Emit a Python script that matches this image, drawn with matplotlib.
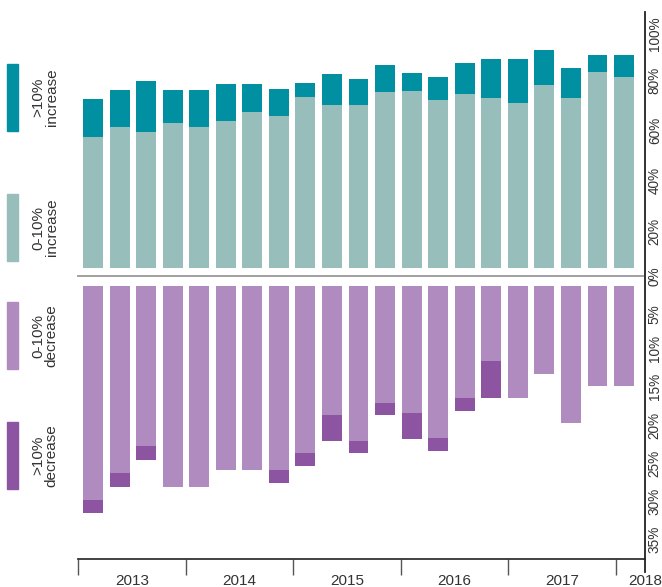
import matplotlib
matplotlib.use("Agg")
import matplotlib.pyplot as plt
from matplotlib.lines import Line2D
from matplotlib.patches import Rectangle
import numpy as np

plt.rcParams['font.family'] = ['Liberation Sans', 'DejaVu Sans']

# share of respondents per quarter, 2013 Q1 .. 2018 Q1
inc_small = [52.0, 56.0, 54.0, 57.5, 56.0, 58.3, 61.9, 60.3, 67.9, 64.7, 64.7,
             69.8, 70.2, 66.7, 69.0, 67.5, 65.5, 72.6, 67.5, 77.8, 75.8]
inc_large = [15.1, 14.6, 20.2, 13.1, 14.6, 14.7, 11.1, 10.7, 5.5, 12.3, 10.3,
             10.8, 7.2, 9.1, 12.3, 15.4, 17.4, 13.9, 11.9, 6.7, 8.7]
dec_small = [28.0, 24.5, 21.0, 26.3, 26.3, 24.1, 24.1, 24.1, 21.9, 16.9, 20.3,
             15.4, 16.7, 19.9, 14.7, 9.9, 14.7, 11.6, 18.0, 13.1, 13.1]
dec_large = [1.8, 1.8, 1.8, 0, 0, 0, 0, 1.7, 1.7, 3.4, 1.6,
             1.5, 3.4, 1.7, 1.7, 4.8, 0, 0, 0, 0, 0]
years = [2013, 2014, 2015, 2016, 2017, 2018]
top_ticks = [20, 40, 60, 80, 100]          # 0% is shared with the lower panel
bot_ticks = [0, 5, 10, 15, 20, 25, 30, 35]

c_inc_small = '#97bebb'
c_inc_large = '#0090a1'
c_dec_small = '#b08bc0'
c_dec_large = '#8d54a1'
txt = '#333333'

W, H = 662, 587
fig = plt.figure(figsize=(W / 100, H / 100), dpi=100)

def fx(px):
    return px / W

def fy(py):
    return 1 - py / H

x = np.arange(len(inc_small))
xlim = (-0.565, 20.79)
left, right = 78, 645

# top panel: increases
ax1 = fig.add_axes([fx(left), fy(268), fx(right - left), (268 - 12) / H])
ax1.bar(x, inc_small, width=0.75, color=c_inc_small)
ax1.bar(x, inc_large, width=0.75, bottom=inc_small, color=c_inc_large)
ax1.set_xlim(xlim)
ax1.set_ylim(0, 101.6)
ax1.set_yticks(top_ticks)
ax1.set_yticklabels([f'{t}%' for t in top_ticks], rotation=90, va='top')

# bottom panel: decreases (downwards)
ax2 = fig.add_axes([fx(left), fy(572), fx(right - left), (572 - 285.7) / H])
ax2.bar(x, dec_small, width=0.75, color=c_dec_small)
ax2.bar(x, dec_large, width=0.75, bottom=dec_small, color=c_dec_large)
ax2.set_xlim(xlim)
ax2.set_ylim(37.47, 0)
ax2.set_yticks(bot_ticks)
ax2.set_yticklabels([f'{t}%' for t in bot_ticks], rotation=90, va='bottom')

for ax in (ax1, ax2):
    for s in ax.spines.values():
        s.set_visible(False)
    ax.set_xticks([])
    ax.yaxis.tick_right()
    ax.tick_params(axis='y', length=0, pad=2, labelsize=9.8, labelcolor=txt)

# year axis
ax3 = fig.add_axes([fx(left), fy(559), fx(right - left), 0.0001])
ax3.patch.set_visible(False)
for k in ('top', 'left', 'right'):
    ax3.spines[k].set_visible(False)
ax3.spines['bottom'].set_color('#333333')
ax3.spines['bottom'].set_linewidth(1.3)
ax3.set_xlim(2013, 2013 + (right - left) / 107.6)
ax3.set_yticks([])
ax3.set_xticks(years)
ax3.set_xticklabels([])
ax3.tick_params(axis='x', which='major', length=11.5, width=1.0, color='#555555')
lab_pos = [y + 0.5 for y in years[:-1]] + [ax3.get_xlim()[1]]
ax3.set_xticks(lab_pos, minor=True)
ax3.set_xticklabels([str(y) for y in years], minor=True)
ax3.tick_params(axis='x', which='minor', length=0, pad=10.5, labelsize=11, labelcolor=txt)

# right axis line and separator
fig.add_artist(Line2D([fx(645), fx(645)], [fy(12), fy(572)], color='#222222', lw=1.3))
fig.add_artist(Line2D([fx(78), fx(643)], [fy(276), fy(276)], color='#999999', lw=1.3))

# legend on the left
legend = [(c_inc_large, '>10%\nincrease', 64),
          (c_inc_small, '0-10%\nincrease', 194),
          (c_dec_small, '0-10%\ndecrease', 302),
          (c_dec_large, '>10%\ndecrease', 422)]
for col, lab, top in legend:
    fig.add_artist(Rectangle((fx(7), fy(top + 67)), fx(11), 67 / H, color=col,
                             transform=fig.transFigure))
    fig.text(fx(45), fy(top + 33.5), lab, rotation=90, ha='center', va='center',
             fontsize=11, color=txt, linespacing=0.95, multialignment='center')

fig.savefig('out.png', dpi=100)
